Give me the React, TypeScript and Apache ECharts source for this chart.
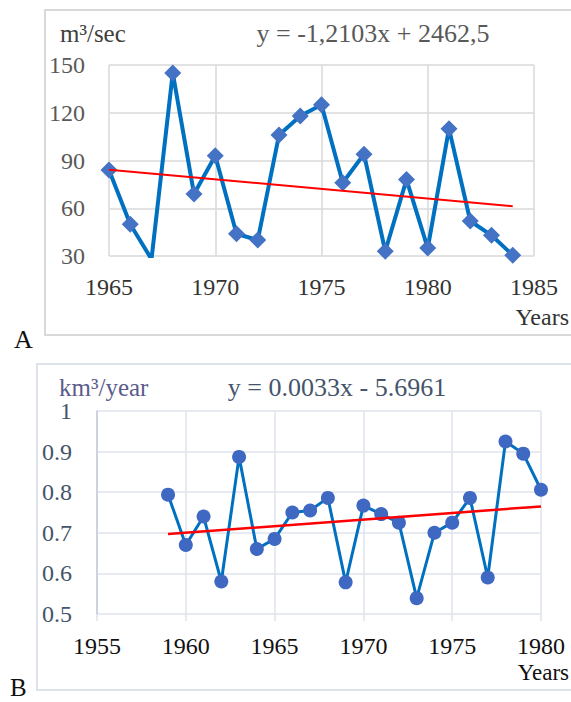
import React, { useEffect, useRef } from "react";
import * as echarts from "echarts";

// Chart A: discharge (m³/sec)
const yearsA = [1965, 1966, 1967, 1968, 1969, 1970, 1971, 1972, 1973, 1974, 1975, 1976, 1977, 1978, 1979, 1980, 1981, 1982, 1983, 1984];
const valuesA = [84, 50, 28, 145, 69, 93, 44, 40, 106, 118, 125, 76, 94, 33, 78, 35, 110, 52, 43, 30.5];
const trendYearsA = [1965, 1984];
const trendValuesA = [84.26, 61.26];

// Chart B: runoff (km³/year)
const yearsB = [1959, 1960, 1961, 1962, 1963, 1964, 1965, 1966, 1967, 1968, 1969, 1970, 1971, 1972, 1973, 1974, 1975, 1976, 1977, 1978, 1979, 1980];
const valuesB = [0.794, 0.67, 0.74, 0.58, 0.887, 0.66, 0.685, 0.75, 0.755, 0.786, 0.578, 0.767, 0.746, 0.725, 0.539, 0.7, 0.725, 0.786, 0.59, 0.925, 0.895, 0.806];
const trendYearsB = [1959, 1980];
const trendValuesB = [0.697, 0.765];

const FONT = "'Liberation Serif', 'DejaVu Serif', serif";

export default function App() {
  const ref = useRef<HTMLDivElement>(null);
  useEffect(() => {
    document.body.style.margin = "0";
    if (!ref.current) return;
    const chart = echarts.init(ref.current, null, { renderer: "svg" });
    const zip = (xs: number[], ys: number[]) => xs.map((x, i) => [x, ys[i]]);
    const gridA = "#d9d9d9";
    const gridB = "#dfe4ec";
    chart.setOption({
      animation: false,
      backgroundColor: "#ffffff",
      grid: [
        { left: 109, top: 65, width: 425, height: 191 },
        { left: 97, top: 411, width: 444, height: 203 },
      ],
      xAxis: [
        {
          type: "value", gridIndex: 0, min: 1965, max: 1985, interval: 5,
          axisLine: { show: false }, axisTick: { show: false },
          splitLine: { show: true, lineStyle: { color: gridA, width: 1.5 } },
          axisLabel: { formatter: (v: number) => String(v), color: "#333333", fontFamily: FONT, fontSize: 24, margin: 19 },
        },
        {
          type: "value", gridIndex: 1, min: 1955, max: 1980, interval: 5,
          axisLine: { show: false },
          axisTick: { show: true, length: 7, lineStyle: { color: gridB, width: 1.5 } },
          splitLine: { show: true, lineStyle: { color: gridB, width: 1.5 } },
          axisLabel: { formatter: (v: number) => String(v), color: "#111111", fontFamily: FONT, fontSize: 24, margin: 20 },
        },
      ],
      yAxis: [
        {
          type: "value", gridIndex: 0, min: 30, max: 150, interval: 30,
          axisLine: { show: false }, axisTick: { show: false },
          splitLine: { show: true, lineStyle: { color: gridA, width: 1.5 } },
          axisLabel: { color: "#595959", fontFamily: FONT, fontSize: 24, margin: 24 },
        },
        {
          type: "value", gridIndex: 1, min: 0.5, max: 1, interval: 0.1,
          axisLine: { show: true, lineStyle: { color: "#c3cad8", width: 1.5 } }, axisTick: { show: false },
          splitLine: { show: true, lineStyle: { color: gridB, width: 1.5 } },
          axisLabel: {
            formatter: (v: number) => (Math.abs(v - 1) < 1e-9 ? "1" : v.toFixed(1)),
            color: "#44546a", fontFamily: FONT, fontSize: 24, margin: 25,
          },
        },
      ],
      series: [
        {
          type: "line", xAxisIndex: 0, yAxisIndex: 0, data: zip(yearsA, valuesA),
          symbol: "diamond", symbolSize: 17,
          itemStyle: { color: "#4472c4" },
          lineStyle: { color: "#0070c0", width: 4 }, z: 2,
        },
        {
          type: "line", xAxisIndex: 0, yAxisIndex: 0, data: zip(trendYearsA, trendValuesA),
          symbol: "none", lineStyle: { color: "#ff0000", width: 2 }, z: 3,
        },
        {
          type: "line", xAxisIndex: 1, yAxisIndex: 1, data: zip(yearsB, valuesB),
          symbol: "circle", symbolSize: 14,
          itemStyle: { color: "#3f68c2" },
          lineStyle: { color: "#0070c0", width: 3 }, z: 2,
        },
        {
          type: "line", xAxisIndex: 1, yAxisIndex: 1, data: zip(trendYearsB, trendValuesB),
          symbol: "none", lineStyle: { color: "#ff0000", width: 2.5 }, z: 3,
        },
      ],
      graphic: [
        { type: "rect", shape: { x: 45, y: 10, width: 540, height: 325 }, style: { fill: "none", stroke: "#d9d9d9", lineWidth: 2 }, z: -1 },
        { type: "rect", shape: { x: 37, y: 364, width: 550, height: 326 }, style: { fill: "none", stroke: "#dde2ea", lineWidth: 2 }, z: -1 },
        { type: "text", x: 60, y: 33, style: { text: "m³/sec", font: `25px ${FONT}`, fill: "#404040", textVerticalAlign: "middle" } },
        { type: "text", x: 373, y: 33, style: { text: "y = -1,2103x + 2462,5", font: `26px ${FONT}`, fill: "#595959", textAlign: "center", textVerticalAlign: "middle" } },
        { type: "text", x: 569, y: 317, style: { text: "Years", font: `24px ${FONT}`, fill: "#333333", textAlign: "right", textVerticalAlign: "middle" } },
        { type: "text", x: 14, y: 339, style: { text: "A", font: `26px ${FONT}`, fill: "#111111", textVerticalAlign: "middle" } },
        { type: "text", x: 59, y: 387, style: { text: "km³/year", font: `25px ${FONT}`, fill: "#5b5b8c", textVerticalAlign: "middle" } },
        { type: "text", x: 337, y: 387, style: { text: "y = 0.0033x - 5.6961", font: `26px ${FONT}`, fill: "#44546a", textAlign: "center", textVerticalAlign: "middle" } },
        { type: "text", x: 569, y: 672, style: { text: "Years", font: `23px ${FONT}`, fill: "#111111", textAlign: "right", textVerticalAlign: "middle" } },
        { type: "text", x: 10, y: 687, style: { text: "B", font: `25px ${FONT}`, fill: "#111111", textVerticalAlign: "middle" } },
      ],
    });
    return () => chart.dispose();
  }, []);
  return <div ref={ref} style={{ width: 571, height: 702 }} />;
}
